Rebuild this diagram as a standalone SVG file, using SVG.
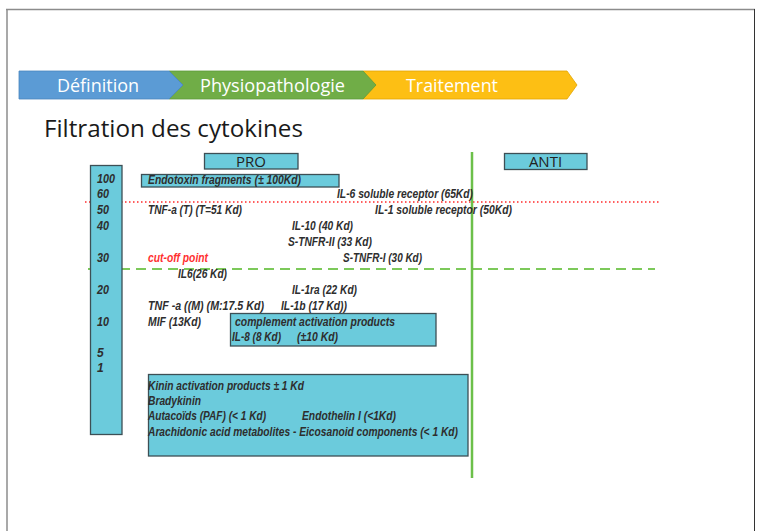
<svg xmlns="http://www.w3.org/2000/svg" width="761" height="531" viewBox="0 0 761 531">
<style>
.box{fill:#6BCBDC;stroke:#3D4F55;stroke-width:1.3}
.t{font-family:"Liberation Sans",Arial,sans-serif;font-weight:bold;font-style:italic;font-size:12px;fill:#2e2e2e}
.red{fill:#FF3030}
.rib{font-family:"Open Sans","Noto Sans",sans-serif;font-size:17.5px;fill:#fff}
.hdr{font-family:"Open Sans","Noto Sans",sans-serif;font-size:15px;fill:#222}
</style>
<rect width="761" height="531" fill="#fff"/>
<g id="page-frame" fill="none">
<line x1="6" y1="9.5" x2="755" y2="9.5" stroke="#8c8c8c" stroke-width="1.5"/>
<line x1="7" y1="9" x2="7" y2="531" stroke="#8c8c8c" stroke-width="1.5"/>
<line x1="754.5" y1="9" x2="754.5" y2="531" stroke="#333" stroke-width="1"/>
</g>
<g id="ribbon">
<g id="step-traitement">
<polygon points="363,71 567,71 577,85 567,99 363,99" fill="#FDBF14" stroke="#E2A400" stroke-width="0.8"/>
<text class="rib" x="406" y="92" textLength="92" lengthAdjust="spacingAndGlyphs">Traitement</text>
</g>
<g id="step-physio">
<polygon points="169,71 363,71 376,85 363,99 169,99" fill="#70AD47" stroke="#5E9A3A" stroke-width="0.8"/>
<text class="rib" x="200" y="92" textLength="145" lengthAdjust="spacingAndGlyphs">Physiopathologie</text>
</g>
<g id="step-definition">
<polygon points="19,71 169,71 183,85 169,99 19,99" fill="#5B9BD5" stroke="#4A86BE" stroke-width="0.8"/>
<text class="rib" x="57" y="92" textLength="82" lengthAdjust="spacingAndGlyphs">Définition</text>
</g>
</g>
<text id="title" x="44" y="137" font-family="Open Sans, Noto Sans, sans-serif" font-size="24" fill="#1a1a1a" textLength="259" lengthAdjust="spacingAndGlyphs">Filtration des cytokines</text>
<g id="connectors">
<line x1="85" y1="202" x2="660" y2="202" stroke="#FF2A2A" stroke-width="1.5" stroke-dasharray="1.5 2.5"/>
<line x1="88" y1="269" x2="655" y2="269" stroke="#7CC95A" stroke-width="2" stroke-dasharray="10 6"/>
</g>
<g id="scale-column">
<rect class="box" x="90.5" y="165.5" width="31.5" height="269"/>
<text class="t" x="97" y="183" textLength="18" lengthAdjust="spacingAndGlyphs">100</text>
<text class="t" x="97" y="198" textLength="12" lengthAdjust="spacingAndGlyphs">60</text>
<text class="t" x="97" y="214" textLength="12" lengthAdjust="spacingAndGlyphs">50</text>
<text class="t" x="97" y="230" textLength="12" lengthAdjust="spacingAndGlyphs">40</text>
<text class="t" x="97" y="262" textLength="12" lengthAdjust="spacingAndGlyphs">30</text>
<text class="t" x="97" y="294" textLength="12" lengthAdjust="spacingAndGlyphs">20</text>
<text class="t" x="97" y="326" textLength="12" lengthAdjust="spacingAndGlyphs">10</text>
<text class="t" x="97" y="357">5</text>
<text class="t" x="97" y="372">1</text>
</g>
<g id="pro-header">
<rect class="box" x="204.5" y="153.5" width="93.5" height="15.5"/>
<text class="hdr" x="251" y="167" text-anchor="middle">PRO</text>
</g>
<g id="anti-header">
<rect class="box" x="504.5" y="153.5" width="82.5" height="16"/>
<text class="hdr" x="545.5" y="167" text-anchor="middle">ANTI</text>
</g>
<g id="divider">
<line x1="472" y1="152" x2="472" y2="478" stroke="#6CC04A" stroke-width="2.5"/>
</g>
<g id="endotoxin">
<rect class="box" x="141.5" y="174.5" width="197.5" height="12.5"/>
<text class="t" x="148" y="183.5" textLength="153" lengthAdjust="spacingAndGlyphs">Endotoxin fragments (± 100Kd)</text>
</g>
<g id="il6-receptor"><text class="t" x="337" y="198" textLength="136" lengthAdjust="spacingAndGlyphs">IL-6 soluble receptor (65Kd)</text></g>
<g id="tnf-t"><text class="t" x="148" y="214" textLength="94" lengthAdjust="spacingAndGlyphs">TNF-a (T) (T=51 Kd)</text></g>
<g id="il1-receptor"><text class="t" x="375" y="214" textLength="137" lengthAdjust="spacingAndGlyphs">IL-1 soluble receptor (50Kd)</text></g>
<g id="il10"><text class="t" x="292" y="230" textLength="61" lengthAdjust="spacingAndGlyphs">IL-10 (40 Kd)</text></g>
<g id="stnfr2"><text class="t" x="288" y="246" textLength="84" lengthAdjust="spacingAndGlyphs">S-TNFR-II (33 Kd)</text></g>
<g id="cutoff"><text class="t red" x="148" y="262" textLength="60" lengthAdjust="spacingAndGlyphs">cut-off point</text></g>
<g id="stnfr1"><text class="t" x="343" y="262" textLength="79" lengthAdjust="spacingAndGlyphs">S-TNFR-I (30 Kd)</text></g>
<g id="il6"><text class="t" x="178" y="278" textLength="49" lengthAdjust="spacingAndGlyphs">IL6(26 Kd)</text></g>
<g id="il1ra"><text class="t" x="292" y="294" textLength="65" lengthAdjust="spacingAndGlyphs">IL-1ra (22 Kd)</text></g>
<g id="tnf-m"><text class="t" x="148" y="310" textLength="116" lengthAdjust="spacingAndGlyphs">TNF -a ((M) (M:17.5 Kd)</text></g>
<g id="il1b"><text class="t" x="281" y="310" textLength="66" lengthAdjust="spacingAndGlyphs">IL-1b (17 Kd))</text></g>
<g id="mif"><text class="t" x="148" y="326" textLength="53" lengthAdjust="spacingAndGlyphs">MIF (13Kd)</text></g>
<g id="complement">
<rect class="box" x="230.5" y="313.5" width="205.5" height="32.5"/>
<text class="t" x="235" y="326" textLength="160" lengthAdjust="spacingAndGlyphs">complement activation products</text>
<text class="t" x="232" y="341" textLength="49" lengthAdjust="spacingAndGlyphs">IL-8 (8 Kd)</text>
<text class="t" x="297" y="341" textLength="41" lengthAdjust="spacingAndGlyphs">(±10 Kd)</text>
</g>
<g id="small-mediators">
<rect class="box" x="148.5" y="374.5" width="319.5" height="81.5"/>
<text class="t" x="148" y="390" textLength="156" lengthAdjust="spacingAndGlyphs">Kinin activation products ± 1 Kd</text>
<text class="t" x="148" y="405" textLength="53" lengthAdjust="spacingAndGlyphs">Bradykinin</text>
<text class="t" x="148" y="420" textLength="118" lengthAdjust="spacingAndGlyphs">Autacoïds (PAF) (&lt; 1 Kd)</text>
<text class="t" x="302" y="420" textLength="94" lengthAdjust="spacingAndGlyphs">Endothelin I (&lt;1Kd)</text>
<text class="t" x="148" y="436" textLength="310" lengthAdjust="spacingAndGlyphs">Arachidonic acid metabolites - Eicosanoid components (&lt; 1 Kd)</text>
</g>
</svg>
